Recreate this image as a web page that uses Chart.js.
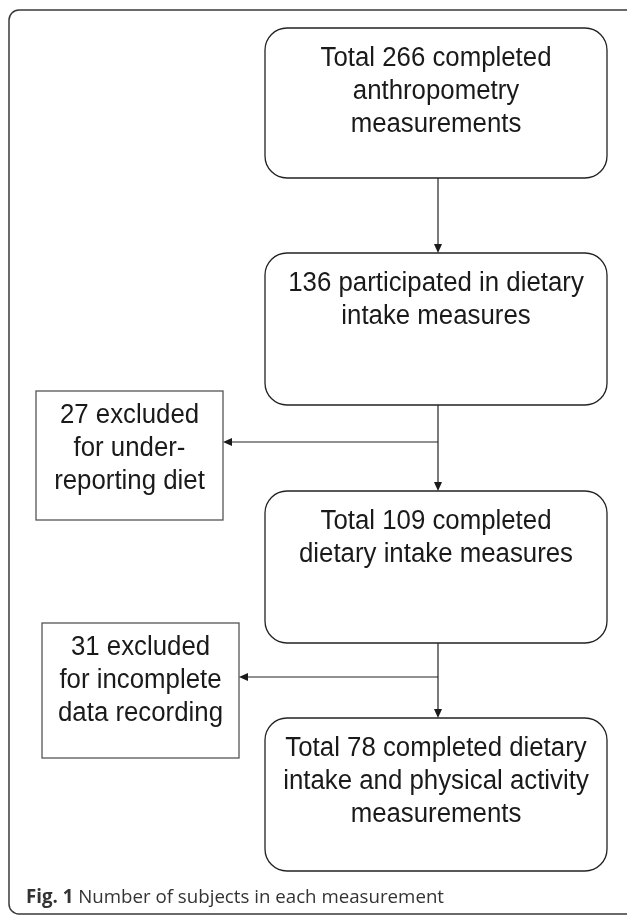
<!DOCTYPE html>
<html><head><meta charset="utf-8">
<script src="https://cdn.jsdelivr.net/npm/chart.js@4.4.1/dist/chart.umd.min.js"></script>
<style>html,body{margin:0;padding:0;background:#fff}canvas{display:block}</style>
</head><body>
<canvas id="c" width="627" height="917"></canvas>
<script>
// ---- data ----
const stageCounts = [266, 136, 109, 78];
const stageLines = [
  ["Total 266 completed", "anthropometry", "measurements"],
  ["136 participated in dietary", "intake measures"],
  ["Total 109 completed", "dietary intake measures"],
  ["Total 78 completed dietary", "intake and physical activity", "measurements"]
];
const excludedCounts = [27, 31];
const excludedLines = [
  ["27 excluded", "for under-", "reporting diet"],
  ["31 excluded", "for incomplete", "data recording"]
];
const captionBold = "Fig. 1";
const captionText = " Number of subjects in each measurement";

// ---- layout (in axis units = reference pixels) ----
const mainX = [265, 607];
const mainY = [[28,178],[253,405],[491,643],[718,871]];
const exclBox = [[36,223,391,520],[42,239,623,758]];
const exclArrowY = [442, 677];
const spineX = 438;
const mainBaseline = 38, exclBaseline = 31.5, lineGap = 33;

const flowPlugin = {
  id: 'flow',
  afterDraw(chart) {
    const ctx = chart.ctx, xs = chart.scales.x, ys = chart.scales.y;
    const X = v => xs.getPixelForValue(v), Y = v => ys.getPixelForValue(v);
    ctx.save();
    // outer frame
    ctx.strokeStyle = '#3a3a3a'; ctx.lineWidth = 1.5;
    ctx.beginPath(); ctx.roundRect(X(9), Y(10), X(660)-X(9), Y(914)-Y(10), 10); ctx.stroke();

    const boxFont = '27px "Liberation Sans", Arial, Helvetica, sans-serif';
    ctx.font = boxFont;
    const squeeze = 231 / ctx.measureText("Total 266 completed").width;
    function fitText(t, cx, y) {
      ctx.save(); ctx.font = boxFont; ctx.translate(cx, y); ctx.scale(squeeze, 1);
      ctx.textAlign = 'center'; ctx.textBaseline = 'alphabetic';
      ctx.fillText(t, 0, 0); ctx.restore();
    }
    function arrowDown(x, y0, y1) {
      ctx.beginPath(); ctx.moveTo(X(x), Y(y0)); ctx.lineTo(X(x), Y(y1) - 7); ctx.stroke();
      ctx.beginPath(); ctx.moveTo(X(x), Y(y1)); ctx.lineTo(X(x)-4, Y(y1)-9); ctx.lineTo(X(x)+4, Y(y1)-9); ctx.closePath(); ctx.fill();
    }
    function arrowLeft(x0, x1, y) {
      ctx.beginPath(); ctx.moveTo(X(x0), Y(y)); ctx.lineTo(X(x1) + 7, Y(y)); ctx.stroke();
      ctx.beginPath(); ctx.moveTo(X(x1), Y(y)); ctx.lineTo(X(x1)+9, Y(y)-4); ctx.lineTo(X(x1)+9, Y(y)+4); ctx.closePath(); ctx.fill();
    }
    // main boxes
    ctx.strokeStyle = '#222'; ctx.lineWidth = 1.3; ctx.fillStyle = '#1a1a1a';
    stageCounts.forEach((n, i) => {
      const [y0, y1] = mainY[i];
      ctx.beginPath(); ctx.roundRect(X(mainX[0]), Y(y0), X(mainX[1])-X(mainX[0]), Y(y1)-Y(y0), 22); ctx.stroke();
      const cx = (X(mainX[0]) + X(mainX[1])) / 2;
      stageLines[i].forEach((t, k) => fitText(t, cx, Y(y0 + mainBaseline + k*lineGap)));
    });
    // vertical arrows
    ctx.strokeStyle = '#222'; ctx.lineWidth = 1.2;
    for (let i = 0; i < 3; i++) arrowDown(spineX, mainY[i][1], mainY[i+1][0]);
    // exclusion boxes
    excludedCounts.forEach((n, i) => {
      const [x0, x1, y0, y1] = exclBox[i];
      ctx.strokeStyle = '#555'; ctx.lineWidth = 1.3;
      ctx.strokeRect(X(x0), Y(y0), X(x1)-X(x0), Y(y1)-Y(y0));
      const cx = (X(x0) + X(x1)) / 2;
      excludedLines[i].forEach((t, k) => fitText(t, cx, Y(y0 + exclBaseline + k*lineGap)));
      ctx.strokeStyle = '#222'; ctx.lineWidth = 1.2;
      arrowLeft(spineX, x1, exclArrowY[i]);
    });
    // caption
    ctx.fillStyle = '#333';
    ctx.textBaseline = 'alphabetic'; ctx.textAlign = 'left';
    const fb = 'bold 19px "Open Sans", sans-serif', fr = '19px "Open Sans", sans-serif';
    ctx.font = fb; const wb = ctx.measureText(captionBold).width;
    ctx.font = fr; const wr = ctx.measureText(captionText).width;
    const cs = 418 / (wb + wr);
    ctx.save(); ctx.translate(X(26), Y(903)); ctx.scale(cs, 1);
    ctx.font = fb; ctx.fillText(captionBold, 0, 0);
    ctx.font = fr; ctx.fillText(captionText, wb, 0);
    ctx.restore();
    ctx.restore();
  }
};

new Chart(document.getElementById('c'), {
  type: 'scatter',
  data: { datasets: [{ label: 'stages', data: [], pointRadius: 0 }] },
  options: {
    responsive: false, animation: false,
    layout: { padding: 0 },
    plugins: { legend: { display: false }, tooltip: { enabled: false } },
    scales: {
      x: { type: 'linear', min: 0, max: 627, display: false },
      y: { type: 'linear', min: 0, max: 917, reverse: true, display: false }
    }
  },
  plugins: [flowPlugin]
});
</script>
</body></html>
